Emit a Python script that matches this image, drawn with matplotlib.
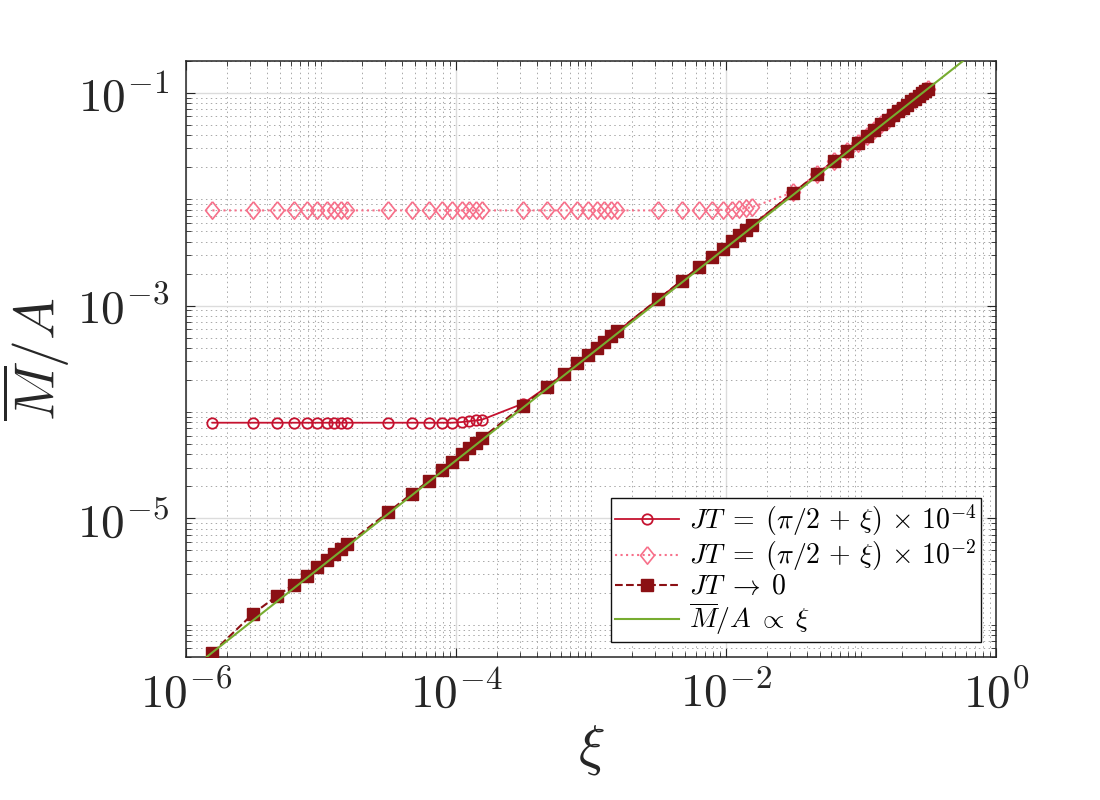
import matplotlib
matplotlib.use("Agg")
import matplotlib.pyplot as plt
import matplotlib.ticker as ticker
import numpy as np

plt.rcParams['mathtext.fontset'] = 'cm'
plt.rcParams['font.family'] = 'DejaVu Serif'

# Data
xi = [1.571e-6, 3.142e-6, 4.712e-6, 6.283e-6, 7.854e-6, 9.425e-6, 1.100e-5, 1.257e-5, 1.414e-5, 1.571e-5,
      3.142e-5, 4.712e-5, 6.283e-5, 7.854e-5, 9.425e-5, 1.100e-4, 1.257e-4, 1.414e-4, 1.571e-4,
      3.142e-4, 4.712e-4, 6.283e-4, 7.854e-4, 9.425e-4, 1.100e-3, 1.257e-3, 1.414e-3, 1.571e-3,
      3.142e-3, 4.712e-3, 6.283e-3, 7.854e-3, 9.425e-3, 1.100e-2, 1.257e-2, 1.414e-2, 1.571e-2,
      3.142e-2, 4.712e-2, 6.283e-2, 7.854e-2, 9.425e-2, 1.100e-1, 1.257e-1, 1.414e-1, 1.571e-1,
      0.1728, 0.1885, 0.2042, 0.2199, 0.2356, 0.2513, 0.2670, 0.2827, 0.2985, 0.3142]

# JT -> 0
m_jt0 = [5.47e-7, 1.27e-6, 1.86e-6, 2.39e-6, 2.90e-6, 3.52e-6, 4.06e-6, 4.62e-6, 5.15e-6, 5.74e-6,
         1.14e-5, 1.71e-5, 2.25e-5, 2.83e-5, 3.42e-5, 4.00e-5, 4.56e-5, 5.15e-5, 5.74e-5,
         1.147e-4, 1.72e-4, 2.29e-4, 2.87e-4, 3.44e-4, 4.01e-4, 4.59e-4, 5.16e-4, 5.73e-4,
         1.147e-3, 1.72e-3, 2.29e-3, 2.87e-3, 3.44e-3, 4.01e-3, 4.59e-3, 5.16e-3, 5.73e-3,
         1.147e-2, 1.72e-2, 2.29e-2, 2.87e-2, 3.41e-2, 3.96e-2, 4.50e-2, 5.05e-2, 5.59e-2,
         0.0613, 0.0668, 0.0722, 0.0776, 0.0830, 0.0884, 0.0937, 0.0990, 0.1043, 0.1095]

# JT = (pi/2 + xi) x 1e-4
m_jt4 = [7.93e-5, 7.93e-5, 7.93e-5, 7.93e-5, 7.93e-5, 7.93e-5, 7.93e-5, 7.93e-5, 7.93e-5, 7.93e-5,
         7.93e-5, 7.93e-5, 7.93e-5, 7.93e-5, 7.93e-5, 8.04e-5, 8.20e-5, 8.33e-5, 8.50e-5,
         1.20e-4, 1.72e-4, 2.29e-4, 2.87e-4, 3.44e-4, 4.01e-4, 4.59e-4, 5.16e-4, 5.73e-4,
         1.147e-3, 1.72e-3, 2.29e-3, 2.87e-3, 3.44e-3, 4.01e-3, 4.59e-3, 5.16e-3, 5.73e-3,
         1.147e-2, 1.72e-2, 2.29e-2, 2.87e-2, 3.41e-2, 3.96e-2, 4.50e-2, 5.05e-2, 5.59e-2,
         0.0613, 0.0668, 0.0722, 0.0776, 0.0830, 0.0884, 0.0937, 0.0990, 0.1043, 0.1095]

# JT = (pi/2 + xi) x 1e-2
m_jt2 = [7.85e-3, 7.85e-3, 7.85e-3, 7.85e-3, 7.85e-3, 7.85e-3, 7.85e-3, 7.85e-3, 7.85e-3, 7.85e-3,
         7.85e-3, 7.85e-3, 7.85e-3, 7.85e-3, 7.85e-3, 7.85e-3, 7.85e-3, 7.85e-3, 7.85e-3,
         7.85e-3, 7.85e-3, 7.85e-3, 7.85e-3, 7.85e-3, 7.85e-3, 7.85e-3, 7.85e-3, 7.85e-3,
         7.85e-3, 7.85e-3, 7.85e-3, 7.90e-3, 7.95e-3, 8.00e-3, 8.10e-3, 8.25e-3, 8.45e-3,
         1.16e-2, 1.72e-2, 2.29e-2, 2.87e-2, 3.41e-2, 3.96e-2, 4.50e-2, 5.05e-2, 5.59e-2,
         0.0613, 0.0668, 0.0722, 0.0776, 0.0830, 0.0884, 0.0937, 0.0990, 0.1043, 0.1095]

# M/A proportional to xi
xi_fit = [1.0e-6, 1.0]
m_fit = [3.5e-7, 0.35]

c_jt4 = '#C5122F'
c_jt2 = '#F7708A'
c_jt0 = '#8B1014'
c_fit = '#77AC30'
c_txt = '#262626'

# diamond a bit wider than matplotlib's thin one
diam = [(0, 1), (0.8, 0), (0, -1), (-0.8, 0), (0, 1)]

fig = plt.figure(figsize=(11, 8), dpi=100)
ax = fig.add_axes([0.169, 0.179, 0.9055 - 0.169, 0.924 - 0.179])

ax.plot(xi, m_jt4, '-o', color=c_jt4, lw=1.3, ms=7.5, mfc='none', mew=1.3,
        label=r'$JT\;=\;(\pi/2\,+\,\xi)\,\times\,10^{-4}$', zorder=3)
ax.plot(xi, m_jt2, ':', marker=diam, color=c_jt2, lw=1.5, ms=12.5, mfc='none', mew=1.2,
        label=r'$JT\;=\;(\pi/2\,+\,\xi)\,\times\,10^{-2}$', zorder=3)
ax.plot(xi, m_jt0, '--s', color=c_jt0, lw=1.5, ms=8, mfc=c_jt0, mew=1,
        label=r'$JT\;\rightarrow\;0$', zorder=4)
ax.plot(xi_fit, m_fit, '-', color=c_fit, lw=1.5,
        label=r'$\overline{M}/A\;\propto\;\xi$', zorder=5)

ax.set_xscale('log')
ax.set_yscale('log')
ax.set_xlim(1e-6, 1)
ax.set_ylim(5e-7, 0.2)

fmt = ticker.FuncFormatter(lambda v, p: r'$10^{%d}$' % int(round(np.log10(v))))
ax.xaxis.set_major_locator(ticker.FixedLocator([1e-6, 1e-4, 1e-2, 1]))
ax.yaxis.set_major_locator(ticker.FixedLocator([1e-5, 1e-3, 1e-1]))
ax.xaxis.set_minor_locator(ticker.LogLocator(base=10, subs=np.arange(1, 10), numticks=30))
ax.yaxis.set_minor_locator(ticker.LogLocator(base=10, subs=np.arange(1, 10), numticks=30))
ax.xaxis.set_major_formatter(fmt)
ax.yaxis.set_major_formatter(fmt)
ax.xaxis.set_minor_formatter(ticker.NullFormatter())
ax.yaxis.set_minor_formatter(ticker.NullFormatter())

ax.tick_params(which='both', direction='in', top=True, right=True, colors=c_txt)
ax.tick_params(which='major', length=6.5, width=0.8, labelsize=34)
ax.tick_params(which='minor', length=3.4, width=0.6)
ax.tick_params(axis='y', which='major', pad=12)
ax.tick_params(axis='x', which='major', pad=10)

ax.grid(which='major', color='#dcdcdc', lw=1.0, ls='-')
ax.grid(which='minor', color='#a8a8a8', lw=0.7, ls=(0, (1.5, 3.5)))
ax.set_axisbelow(True)

for sp in ax.spines.values():
    sp.set_color(c_txt)
    sp.set_linewidth(1.1)

ax.set_xlabel(r'$\xi$', fontsize=40, color=c_txt, labelpad=4)
ax.set_ylabel(r'$\overline{M}/A$', fontsize=40, color=c_txt, labelpad=4)

leg = ax.legend(loc='lower right', fontsize=20, frameon=True, fancybox=False,
                framealpha=1, edgecolor='#111111', borderaxespad=0.55,
                handlelength=2.3, handletextpad=0.35, borderpad=0.15, labelspacing=0.0)
leg.get_frame().set_linewidth(1.0)

fig.savefig('out.png', dpi=100)
